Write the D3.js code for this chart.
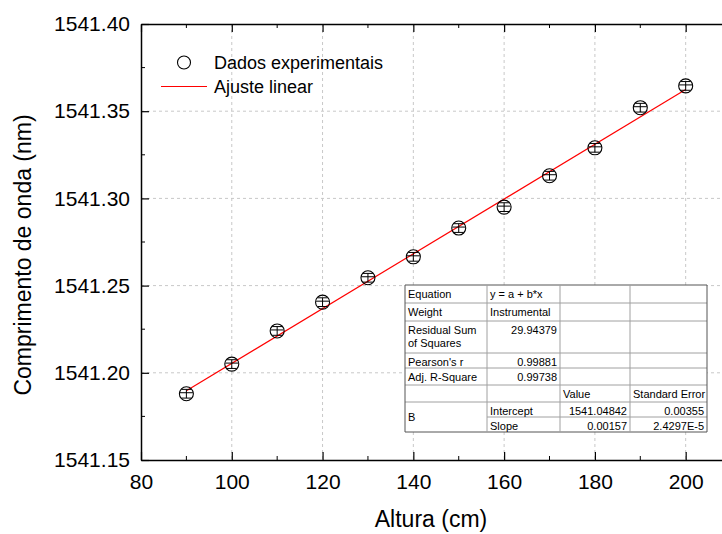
<!DOCTYPE html>
<html><head><meta charset="utf-8">
<script src="https://cdn.jsdelivr.net/npm/d3@7"></script>
<style>body{margin:0;background:#fff;} svg{display:block;font-family:"Liberation Sans",Arial,sans-serif;}</style>
</head><body><svg id="c" width="722" height="534"></svg>
<script>
const altura = [90,100,110,120,130,140,150,160,170,180,190,200];
const comprimento = [1541.188,1541.205,1541.224,1541.2405,1541.2545,1541.2665,1541.283,1541.295,1541.313,1541.329,1541.352,1541.3645];
const erro = [0.0025,0.0025,0.0025,0.0025,0.0025,0.0025,0.0025,0.0025,0.0025,0.0025,0.0025,0.0025];
const intercept = 1541.04842, slope = 0.00157;
const xTicks = [80,100,120,140,160,180,200];
const yTicks = [1541.15,1541.20,1541.25,1541.30,1541.35,1541.40];
const legendLabels = ["Dados experimentais","Ajuste linear"];
const tableRows = [
 ["Equation","y = a + b*x","",""],
 ["Weight","Instrumental","",""],
 ["Residual Sum\nof Squares","29.94379","",""],
 ["Pearson's r","0.99881","",""],
 ["Adj. R-Square","0.99738","",""],
 ["","","Value","Standard Error"],
 ["B","Intercept","1541.04842","0.00355"],
 ["","Slope","0.00157","2.4297E-5"]
];
const FONT = "'Liberation Sans', Arial, sans-serif";
const svg = d3.select("#c");
const L=141, T=24, B=460;
const x = d3.scaleLinear().domain([80,210]).range([L, L+130*4.539]);
const y = d3.scaleLinear().domain([1541.15,1541.40]).range([B,T]);

// grid
const g = svg.append("g");
g.selectAll(".gx").data(xTicks.slice(1)).join("line")
 .attr("x1",d=>x(d)).attr("x2",d=>x(d)).attr("y1",T).attr("y2",B)
 .attr("stroke","#c8c8c8").attr("stroke-dasharray","3,3");
g.selectAll(".gy").data(yTicks.slice(1,-1)).join("line")
 .attr("y1",d=>y(d)).attr("y2",d=>y(d)).attr("x1",L).attr("x2",722)
 .attr("stroke","#c8c8c8").attr("stroke-dasharray","3,3");

// axes
const minorX = d3.range(90,210,20);
const minorY = [1541.175,1541.225,1541.275,1541.325,1541.375];
const bx = svg.append("g").attr("transform",`translate(0,${B})`)
 .call(d3.axisBottom(x).tickValues(xTicks).tickSizeInner(-8).tickSizeOuter(0).tickPadding(14).tickFormat(d3.format("d")));
bx.append("g").selectAll("line").data(minorX).join("line").attr("x1",d=>x(d)).attr("x2",d=>x(d)).attr("y1",0).attr("y2",-4).attr("stroke","#000");
const tx = svg.append("g").attr("transform",`translate(0,${T})`)
 .call(d3.axisTop(x).tickValues(xTicks).tickSizeInner(-8).tickSizeOuter(0).tickFormat(""));
tx.append("g").selectAll("line").data(minorX).join("line").attr("x1",d=>x(d)).attr("x2",d=>x(d)).attr("y1",0).attr("y2",4).attr("stroke","#000");
const ly = svg.append("g").attr("transform",`translate(${L},0)`)
 .call(d3.axisLeft(y).tickValues(yTicks).tickSizeInner(-8).tickSizeOuter(0).tickPadding(11).tickFormat(d3.format(".2f")));
ly.append("g").selectAll("line").data(minorY).join("line").attr("y1",d=>y(d)).attr("y2",d=>y(d)).attr("x1",0).attr("x2",4).attr("stroke","#000");
svg.selectAll(".domain").attr("stroke","#000").attr("stroke-width",1.5);
svg.selectAll(".tick line").attr("stroke","#000").attr("stroke-width",1.2);
svg.selectAll(".tick text").attr("font-size",21).attr("fill","#000").attr("font-family",FONT);

// fit line
svg.append("line").attr("x1",x(90)).attr("x2",x(200))
 .attr("y1",y(intercept+slope*90)).attr("y2",y(intercept+slope*200))
 .attr("stroke","#ff0000").attr("stroke-width",1.2);

// points with error bars
const pts = svg.append("g").selectAll("g").data(altura.map((a,i)=>({a,v:comprimento[i],e:erro[i]}))).join("g")
 .attr("transform",d=>`translate(${x(d.a)},${y(d.v)})`);
pts.append("line").attr("x1",0).attr("x2",0).attr("y1",d=>y(d.v+d.e)-y(d.v)).attr("y2",d=>y(d.v-d.e)-y(d.v)).attr("stroke","#000");
pts.append("line").attr("x1",-5).attr("x2",5).attr("y1",d=>y(d.v+d.e)-y(d.v)).attr("y2",d=>y(d.v+d.e)-y(d.v)).attr("stroke","#000");
pts.append("line").attr("x1",-5).attr("x2",5).attr("y1",d=>y(d.v-d.e)-y(d.v)).attr("y2",d=>y(d.v-d.e)-y(d.v)).attr("stroke","#000");
pts.append("line").attr("x1",-6.5).attr("x2",6.5).attr("y1",-1).attr("y2",-1).attr("stroke","#000");
pts.append("circle").attr("r",7).attr("fill","none").attr("stroke","#000").attr("stroke-width",1.1);

// legend
svg.append("circle").attr("cx",184).attr("cy",62.5).attr("r",6.5).attr("fill","none").attr("stroke","#000").attr("stroke-width",1.1);
svg.append("text").attr("x",214).attr("y",69).attr("font-size",18).attr("font-family",FONT).text(legendLabels[0]);
svg.append("line").attr("x1",161).attr("x2",207).attr("y1",86.5).attr("y2",86.5).attr("stroke","#ff0000").attr("stroke-width",1.2);
svg.append("text").attr("x",214).attr("y",93).attr("font-size",18).attr("font-family",FONT).text(legendLabels[1]);

// axis titles
svg.append("text").attr("x",431).attr("y",527).attr("text-anchor","middle").attr("font-size",23).attr("font-family",FONT).text("Altura (cm)");
svg.append("text").attr("transform","translate(31,255) rotate(-90)").attr("text-anchor","middle").attr("font-size",23).attr("font-family",FONT).text("Comprimento de onda (nm)");

// table
const colX = [405,487,560,630,707];
const rowY = [285,303,321,353,368,385,402,417,432];
const tg = svg.append("g");
tg.append("rect").attr("x",colX[0]).attr("y",rowY[0]).attr("width",colX[4]-colX[0]).attr("height",rowY[8]-rowY[0]).attr("fill","#fff");
rowY.forEach((ry,i)=>{
  if(i===7){ tg.append("line").attr("x1",colX[1]).attr("x2",colX[4]).attr("y1",ry).attr("y2",ry).attr("stroke","#a0a0a0"); }
  else tg.append("line").attr("x1",colX[0]).attr("x2",colX[4]).attr("y1",ry).attr("y2",ry).attr("stroke",(i===0||i===8)?"#555":"#a0a0a0");
});
colX.forEach((cx,i)=>{
  tg.append("line").attr("x1",cx).attr("x2",cx).attr("y1",rowY[0]).attr("y2",rowY[8]).attr("stroke",(i===0||i===4)?"#555":"#a0a0a0");
});
const fs=11;
tableRows.forEach((r,ri)=>{
  r.forEach((txt,ci)=>{
    if(!txt) return;
    const y0=rowY[ri];
    let anchor="start", tx0=colX[ci]+3;
    const rightAligned = (ci===1 && ri>=2 && ri<=4) || (ci>=2 && ri>=6);
    if(rightAligned){anchor="end"; tx0=colX[ci+1]-3;}
    let ty = y0+13;
    if(ri===6 && ci===0) ty = rowY[6]+ (rowY[8]-rowY[6])/2+4;
    txt.split("\n").forEach((ln,k)=>{
      tg.append("text").attr("x",tx0).attr("y",ty+k*13).attr("text-anchor",anchor).attr("font-size",fs).attr("font-family",FONT).attr("fill","#000").text(ln);
    });
  });
});
</script></body></html>
